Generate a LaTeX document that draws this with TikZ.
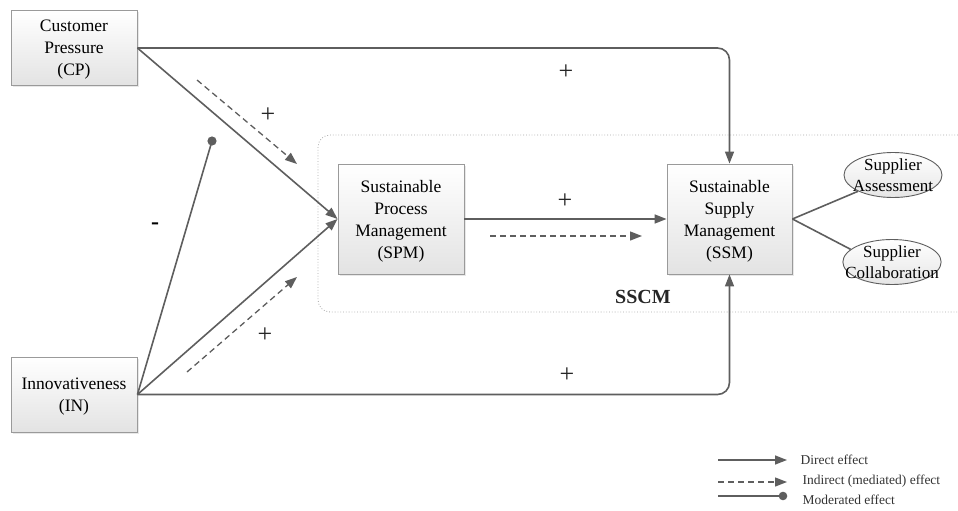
\documentclass[tikz,border=0pt]{standalone}
\usepackage{fontspec}
\setmainfont{Liberation Serif}
\usetikzlibrary{arrows.meta,shapes.geometric,shadows}
\definecolor{linec}{HTML}{5E5E5E}
\definecolor{boxline}{HTML}{9A9A9A}
\tikzset{
  box/.style={draw=boxline, line width=0.9pt, top color=white, bottom color=black!11,
    minimum width=126pt, align=center, inner sep=2pt, text depth=0pt,
    font=\fontsize{17.5}{22}\selectfont,
    drop shadow={opacity=0.18, shadow xshift=1.5pt, shadow yshift=-1.5pt}},
  ell/.style={ellipse, draw=linec, line width=0.9pt, top color=white, bottom color=black!10,
    minimum width=98pt, minimum height=45pt, inner xsep=-12pt, inner ysep=-3pt, align=center,
    font=\fontsize{17}{21}\selectfont},
  direct/.style={draw=linec, line width=1.6pt, -{Triangle[length=12pt,width=9pt]}},
  indirect/.style={draw=linec, line width=1.3pt, dash pattern=on 6pt off 4pt, -{Triangle[length=12pt,width=9pt]}},
  plain/.style={draw=linec, line width=1.6pt},
  sign/.style={font=\fontsize{26}{26}\selectfont, text=black!85},
  legtext/.style={anchor=west, font=\fontsize{13.5}{14}\selectfont, text=black!80},
}
\begin{document}
\begin{tikzpicture}[x=1pt,y=-1pt]
\useasboundingbox (0,0) rectangle (958,511);
% SSCM frame
\draw[black!35, dotted, line width=0.8pt, rounded corners=12pt]
  (958,135) -- (318,135) -- (318,312) -- (958,312);
\node[font=\bfseries\fontsize{20}{20}\selectfont, text=black!85] (sscm) at (643,297) {SSCM};

% nodes
\node[box, minimum height=75pt] (cp) at (74,48) {Customer\\Pressure\\(CP)};
\node[box, minimum height=75pt] (in) at (74,394.5) {Innovativeness\\(IN)};
\node[box, minimum width=126pt, minimum height=110pt] (spm) at (401,219) {Sustainable\\Process\\Management\\(SPM)};
\node[box, minimum width=125pt, minimum height=110pt] (ssm) at (729.5,219) {Sustainable\\Supply\\Management\\(SSM)};
\node[ell] (sa) at (893,175) {Supplier\\Assessment};
\node[ell] (sc) at (892,262) {Supplier\\Collaboration};

% moderation point
\coordinate (mod) at (212,141);

% connectors
\draw[direct, rounded corners=12pt] (cp.east) -| (ssm.north);
\draw[direct, rounded corners=12pt] (in.east) -| (ssm.south);
\draw[direct] (cp.east) -- (spm.west);
\draw[direct] (in.east) -- (spm.west);
\draw[plain] (in.east) -- (mod);
\fill[linec] (mod) circle (4.6pt);
\draw[direct] (spm.east) -- (ssm.west);
\draw[plain] (ssm.east) -- (sa.205);
\draw[plain] (ssm.east) -- (sc.163);

% mediated (dashed) arrows
\coordinate (d1s) at (197,80);  \coordinate (d1e) at (297,164);
\coordinate (d2s) at (187,372); \coordinate (d2e) at (297,277);
\coordinate (d3s) at (490,236); \coordinate (d3e) at (642,236);
\draw[indirect] (d1s) -- (d1e);
\draw[indirect] (d2s) -- (d2e);
\draw[indirect] (d3s) -- (d3e);

% signs
\node[sign] (p1) at (268,115) {+};
\node[sign] (p2) at (566,72) {+};
\node[sign] (p3) at (565,201) {+};
\node[sign] (p4) at (265,335) {+};
\node[sign] (p5) at (567,375) {+};
\node[font=\bfseries\fontsize{24}{24}\selectfont] (m1) at (155,226) {-};

% legend
\coordinate (l1s) at (718,460); \coordinate (l1e) at (787,460);
\coordinate (l2s) at (718,482); \coordinate (l2e) at (787,482);
\coordinate (l3s) at (718,496); \coordinate (l3e) at (783,496);
\draw[direct, line width=1.4pt] (l1s) -- (l1e);
\draw[indirect, line width=1.3pt] (l2s) -- (l2e);
\draw[plain, line width=1.4pt] (l3s) -- (l3e);
\fill[linec] (l3e) circle (4.3pt);
\node[legtext] (t1) at (797,460) {Direct effect};
\node[legtext] (t2) at (799,481) {Indirect (mediated) effect};
\node[legtext] (t3) at (799,500) {Moderated effect};
\end{tikzpicture}
\end{document}
